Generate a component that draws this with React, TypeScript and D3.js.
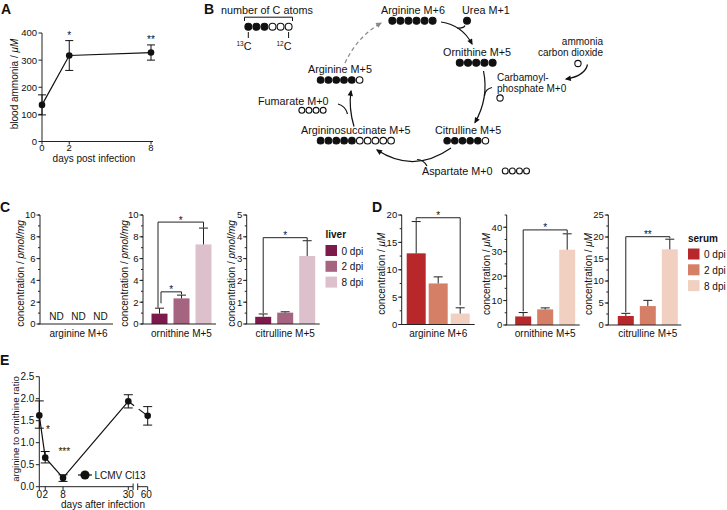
import React from "react";
import * as d3 from "d3";

const FONT = "Liberation Sans, Arial, Helvetica, sans-serif";
const INK = "#222";

// ---------- Panel A data ----------
const ammoniaDays = [0, 2, 8];
const ammoniaMean = [135, 317, 328];
const ammoniaErr = [37, 55, 28];
const ammoniaStars = ["", "*", "**"];
const ammoniaXTicks = [0, 2, 8];

// ---------- Panel B data ----------
const metabolites = [
  "Arginine M+6",
  "Urea M+1",
  "Ornithine M+5",
  "Citrulline M+5",
  "Argininosuccinate M+5",
  "Arginine M+5",
  "Fumarate M+0",
  "Aspartate M+0",
  "Carbamoyl-phosphate M+0",
];
const labeledAtoms = [6, 1, 5, 5, 5, 5, 0, 0, 0];
const totalAtoms = [6, 1, 5, 6, 10, 6, 4, 4, 1];

// ---------- Panel C / D data ----------
const dpiGroups = ["0 dpi", "2 dpi", "8 dpi"];
const liverColors = ["#7b1a4b", "#a5647f", "#dcc1cd"];
const serumColors = ["#b8272a", "#d57f67", "#f2d0c1"];

const liverOrnMean = [0.95, 2.35, 7.3];
const liverOrnErr = [0.5, 0.3, 1.5];
const liverCitMean = [0.33, 0.52, 3.12];
const liverCitErr = [0.13, 0.04, 0.7];

const serumArgMean = [13.0, 7.5, 2.0];
const serumArgErr = [5.8, 1.2, 1.05];
const serumOrnMean = [3.5, 6.4, 30.8];
const serumOrnErr = [1.6, 0.6, 6.5];
const serumCitMean = [2.05, 4.3, 17.2];
const serumCitErr = [0.6, 1.3, 2.3];

// ---------- Panel E data ----------
const ratioDays = [0, 2, 8, 30, 60];
const ratioMean = [1.62, 0.66, 0.2, 1.94, 1.61];
const ratioErrHi = [0.33, 0.14, 0.07, 0.15, 0.21];
const ratioErrLo = [0.29, 0.12, 0.08, 0.15, 0.21];
const ratioXTicks = [0, 2, 8, 30, 60];
const ratioStars = ["*", "***"];
const ratioStarDay = [2.9, 8.4];
const ratioStarVal = [1.34, 0.86];

type Bracket = { a: number; b: number; y: number; ya: number; yb: number; label: string; dxa?: number };

function YAxis({ x, scale, major, minor, fmt, fs = 9.5, lx = 5 }: any) {
  const [d0, d1] = scale.domain();
  const majors = d3.range(d0, d1 + 1e-9, major);
  const minors = minor ? d3.range(d0, d1 + 1e-9, minor) : [];
  return (
    <g>
      <line x1={x} x2={x} y1={scale(d0)} y2={scale(d1)} stroke={INK} strokeWidth={1} />
      {minors.map((v: number, i: number) => (
        <line key={"m" + i} x1={x - 2} x2={x} y1={scale(v)} y2={scale(v)} stroke={INK} strokeWidth={1} />
      ))}
      {majors.map((v: number, i: number) => (
        <g key={"M" + i}>
          <line x1={x - 3.5} x2={x} y1={scale(v)} y2={scale(v)} stroke={INK} strokeWidth={1} />
          <text x={x - lx} y={scale(v) + 3.4} textAnchor="end" fontSize={fs}>
            {fmt ? fmt(v) : v}
          </text>
        </g>
      ))}
    </g>
  );
}

function BarPanel(props: any) {
  const {
    x0, top, bottom, max, major, minor, means, errs, colors, offset, bw, xlabel,
    unit, ylabelX, brackets, nd, fs, lx,
  } = props;
  const y = d3.scaleLinear().domain([0, max]).range([bottom, top]);
  const step = 22;
  const start = x0 + offset;
  const x = d3
    .scaleBand()
    .domain(dpiGroups)
    .range([start, start + 2 * step + bw])
    .paddingInner(1 - bw / step)
    .paddingOuter(0);
  const cx = (i: number) => (x(dpiGroups[i]) as number) + x.bandwidth() / 2;
  return (
    <g>
      {means &&
        means.map((m: number, i: number) => (
          <g key={i}>
            <rect x={x(dpiGroups[i])} y={y(m)} width={x.bandwidth()} height={y(0) - y(m)} fill={colors[i]} />
            <line x1={cx(i)} x2={cx(i)} y1={y(m)} y2={y(m + errs[i])} stroke={INK} strokeWidth={1} />
            <line x1={cx(i) - 4.5} x2={cx(i) + 4.5} y1={y(m + errs[i])} y2={y(m + errs[i])} stroke={INK} strokeWidth={1} />
          </g>
        ))}
      {nd &&
        dpiGroups.map((g, i) => (
          <text key={g} x={cx(i)} y={bottom - 4} textAnchor="middle" fontSize={10}>
            ND
          </text>
        ))}
      <line x1={x0} x2={x0 + 73} y1={bottom} y2={bottom} stroke={INK} strokeWidth={1} />
      <YAxis x={x0} scale={y} major={major} minor={minor} fs={fs} lx={lx} />
      {(brackets || []).map((b: Bracket, i: number) => {
        const xa = cx(b.a) + (b.dxa || 0);
        const xb = cx(b.b);
        return (
          <g key={"b" + i}>
            <path
              d={`M${xa},${y(b.ya)}V${y(b.y)}H${xb}V${y(b.yb)}`}
              fill="none"
              stroke={INK}
              strokeWidth={1}
            />
            <text x={(xa + xb) / 2} y={y(b.y) + 1.5} textAnchor="middle" fontSize={10}>
              {b.label}
            </text>
          </g>
        );
      })}
      <text x={cx(1)} y={336.5} textAnchor="middle" fontSize={10}>
        {xlabel}
      </text>
      <text transform={`translate(${ylabelX},${(top + bottom) / 2 + 4}) rotate(-90)`} textAnchor="middle" fontSize={10}>
        concentration / <tspan fontStyle="italic">{unit}</tspan>
      </text>
    </g>
  );
}

function Legend({ x, y, title, colors }: any) {
  return (
    <g>
      <text x={x} y={y} fontSize={10} fontWeight="bold">
        {title}
      </text>
      {dpiGroups.map((g, i) => (
        <g key={g}>
          <rect x={x} y={y + 7 + i * 15.8} width={11.5} height={11} fill={colors[i]} />
          <text x={x + 16} y={y + 16.5 + i * 15.8} fontSize={10}>
            {g}
          </text>
        </g>
      ))}
    </g>
  );
}

function PanelA() {
  const x = d3.scaleLinear().domain([0, 8]).range([42, 151]);
  const y = d3.scaleLinear().domain([0, 400]).range([141.5, 33]);
  const line = d3
    .line<number>()
    .x((_, i) => x(ammoniaDays[i]))
    .y((d) => y(d));
  return (
    <g>
      <text x={1} y={14} fontSize={14} fontWeight="bold">A</text>
      <line x1={42} x2={153} y1={141.5} y2={141.5} stroke={INK} />
      {ammoniaXTicks.map((t) => (
        <g key={t}>
          <line x1={x(t)} x2={x(t)} y1={141.5} y2={144.5} stroke={INK} />
          <text x={x(t)} y={150.5} textAnchor="middle" fontSize={9.5}>{t}</text>
        </g>
      ))}
      <YAxis x={42} scale={y} major={100} fs={9.5} />
      <path d={line(ammoniaMean) || ""} fill="none" stroke="#111" strokeWidth={1.2} />
      {ammoniaMean.map((m, i) => (
        <g key={i}>
          <line x1={x(ammoniaDays[i])} x2={x(ammoniaDays[i])} y1={y(m - ammoniaErr[i])} y2={y(m + ammoniaErr[i])} stroke="#111" />
          <line x1={x(ammoniaDays[i]) - 4} x2={x(ammoniaDays[i]) + 4} y1={y(m + ammoniaErr[i])} y2={y(m + ammoniaErr[i])} stroke="#111" />
          <line x1={x(ammoniaDays[i]) - 4} x2={x(ammoniaDays[i]) + 4} y1={y(m - ammoniaErr[i])} y2={y(m - ammoniaErr[i])} stroke="#111" />
          <circle cx={x(ammoniaDays[i])} cy={y(m)} r={3.3} fill="#111" />
          <text x={x(ammoniaDays[i])} y={y(m + ammoniaErr[i]) - 1.5} textAnchor="middle" fontSize={10} fill="#111">
            {ammoniaStars[i]}
          </text>
        </g>
      ))}
      <text x={94} y={161.5} textAnchor="middle" fontSize={10}>days post infection</text>
      <text transform="translate(18,84) rotate(-90)" textAnchor="middle" fontSize={10}>
        blood ammonia / <tspan fontStyle="italic">μM</tspan>
      </text>
    </g>
  );
}

function AtomRow({ left, y, d, filled, total }: any) {
  return (
    <g>
      {d3.range(total).map((i) => (
        <circle
          key={i}
          cx={left + d / 2 + i * d}
          cy={y}
          r={d / 2 - 0.6}
          fill={i < filled ? "#111" : "#fff"}
          stroke="#111"
          strokeWidth={1.1}
        />
      ))}
    </g>
  );
}

function PanelB() {
  // layout for each metabolite: [textX, textY, rowLeft, rowY, diameter]
  const layout: number[][] = [
    [381, 13.5, 388.3, 20.7, 8.06],
    [462, 13.5, 463, 20.7, 8],
    [443, 55.5, 455.7, 62.7, 8.2],
    [435, 133.7, 443.3, 140.7, 7.67],
    [301, 133.7, 316.7, 140.7, 7.83],
    [308, 73, 316.7, 80, 7.8],
    [258, 105, 298.3, 110.3, 7.1],
    [422, 175, 501.7, 171, 7.1],
    [497, 80.5, 496.3, 98, 7.5],
  ];
  return (
    <g fontSize={10.8}>
      <defs>
        <marker id="ahB" viewBox="0 0 10 10" refX="8" refY="5" markerWidth="7" markerHeight="6" markerUnits="userSpaceOnUse" orient="auto">
          <path d="M0,0.5 L10,5 L0,9.5 Z" fill="#111" />
        </marker>
        <marker id="ahG" viewBox="0 0 10 10" refX="8" refY="5" markerWidth="7" markerHeight="6" markerUnits="userSpaceOnUse" orient="auto">
          <path d="M0,0.5 L10,5 L0,9.5 Z" fill="#888" />
        </marker>
      </defs>
      <text x={204} y={14} fontSize={14} fontWeight="bold">B</text>
      <text x={221} y={13.5}>number of C atoms</text>
      <path d="M244.5,21V17.2H292.5V21" fill="none" stroke="#111" strokeWidth={1} />
      <AtomRow left={244.3} y={26.7} d={8.06} filled={3} total={6} />
      <line x1={248.3} x2={248.3} y1={32} y2={38} stroke="#111" />
      <line x1={288.6} x2={288.6} y1={32} y2={38} stroke="#111" />
      <text x={236.5} y={49.5}>
        <tspan fontSize={6.5} dy={-4}>13</tspan>
        <tspan dy={4}>C</tspan>
      </text>
      <text x={276.5} y={49.5}>
        <tspan fontSize={6.5} dy={-4}>12</tspan>
        <tspan dy={4}>C</tspan>
      </text>
      {metabolites.map((m, i) => {
        const [tx, ty, rl, ry, d] = layout[i];
        return (
          <g key={m}>
            {m.startsWith("Carbamoyl") ? (
              <g fontSize={10}>
                <text x={tx} y={ty}>Carbamoyl-</text>
                <text x={tx} y={ty + 11.3}>phosphate M+0</text>
              </g>
            ) : (
              <text x={tx} y={ty}>{m}</text>
            )}
            <AtomRow left={rl} y={ry} d={d} filled={labeledAtoms[i]} total={totalAtoms[i]} />
          </g>
        );
      })}
      <g fontSize={10}>
        <text x={603} y={45} textAnchor="end">ammonia</text>
        <text x={603} y={56.3} textAnchor="end">carbon dioxide</text>
      </g>
      <AtomRow left={574.2} y={63.5} d={7.5} filled={0} total={1} />
      {/* arrows */}
      <g fill="none" stroke="#111" strokeWidth={1.2}>
        <path d="M441,22 Q462,25 472,44" markerEnd="url(#ahB)" />
        <path d="M465,25.5 Q464,28.5 457,28" />
        <path d="M483.5,71 Q489,98 475,122.5" markerEnd="url(#ahB)" />
        <path d="M492,87.5 Q485,89 484.5,96" />
        <path d="M587.5,64.5 Q585,76 566,79" markerEnd="url(#ahB)" />
        <path d="M451,148 Q414,174 377,150" markerEnd="url(#ahB)" />
        <path d="M427,166 Q424,160 417,159.5" />
        <path d="M354,126.5 Q348.5,108 351,91" markerEnd="url(#ahB)" />
        <path d="M338,104 Q345.5,106 347.5,114" />
      </g>
      <path d="M345,63 Q357,37 381,23" fill="none" stroke="#888" strokeWidth={1.2} strokeDasharray="4,3" markerEnd="url(#ahG)" />
    </g>
  );
}

function PanelE() {
  const y = d3.scaleLinear().domain([0, 2.5]).range([486.7, 376.7]);
  const x1 = d3.scaleLinear().domain([0, 30]).range([39.3, 128.3]);
  const x2 = d3.scaleLinear().domain([50, 60]).range([137.7, 147.7]);
  const seg1End = 133.1;
  const xs = (d: number) => (d <= 31.6 ? x1(d) : x2(d));
  const pts = ratioDays.map((d, i) => [xs(d), y(ratioMean[i])]);
  const line = d3.line();
  const [p30, p60] = [pts[3], pts[4]];
  const interp = (xv: number) => p30[1] + ((xv - p30[0]) / (p60[0] - p30[0])) * (p60[1] - p30[1]);
  return (
    <g>
      <text x={0} y={365} fontSize={14} fontWeight="bold">E</text>
      <YAxis x={39.3} scale={y} major={0.5} fmt={d3.format(".1f")} fs={10} />
      <line x1={39.3} x2={seg1End} y1={486.7} y2={486.7} stroke={INK} />
      <line x1={seg1End} x2={seg1End} y1={483.5} y2={490} stroke={INK} />
      <line x1={137.7} x2={147.7} y1={486.7} y2={486.7} stroke={INK} />
      <line x1={137.7} x2={137.7} y1={483.5} y2={490} stroke={INK} />
      {ratioXTicks.map((t) => (
        <g key={t}>
          <line x1={xs(t)} x2={xs(t)} y1={486.7} y2={490} stroke={INK} />
          <text x={t === 60 ? xs(t) - 1.5 : xs(t)} y={497.5} textAnchor="middle" fontSize={10}>{t}</text>
        </g>
      ))}
      <path d={line(pts.slice(0, 4) as any) || ""} fill="none" stroke="#111" strokeWidth={1.2} />
      <line x1={p30[0]} y1={p30[1]} x2={seg1End + 1} y2={interp(seg1End + 1)} stroke="#111" strokeWidth={1.2} />
      <line x1={137.7 + 1} y1={interp(138.7)} x2={p60[0]} y2={p60[1]} stroke="#111" strokeWidth={1.2} />
      {ratioMean.map((m, i) => {
        const cx = xs(ratioDays[i]);
        return (
          <g key={i}>
            <line x1={cx} x2={cx} y1={y(m - ratioErrLo[i])} y2={y(m + ratioErrHi[i])} stroke="#111" />
            <line x1={cx - 4.5} x2={cx + 4.5} y1={y(m + ratioErrHi[i])} y2={y(m + ratioErrHi[i])} stroke="#111" />
            <line x1={cx - 4.5} x2={cx + 4.5} y1={y(m - ratioErrLo[i])} y2={y(m - ratioErrLo[i])} stroke="#111" />
            <circle cx={cx} cy={y(m)} r={3.3} fill="#111" />
          </g>
        );
      })}
      {ratioStars.map((s, i) => (
        <text key={s} x={x1(ratioStarDay[i])} y={y(ratioStarVal[i]) + 5.7} textAnchor="middle" fontSize={10}>
          {s}
        </text>
      ))}
      <line x1={78} x2={92} y1={475} y2={475} stroke="#111" strokeWidth={1.2} />
      <circle cx={85} cy={475} r={4.6} fill="#111" />
      <text x={94.5} y={479} fontSize={10}>LCMV Cl13</text>
      <text x={103} y={507.5} textAnchor="middle" fontSize={10}>days after infection</text>
      <text transform="translate(18.5,429) rotate(-90)" textAnchor="middle" fontSize={9.6}>
        arginine to ornithine ratio
      </text>
    </g>
  );
}

export default function App() {
  return (
    <svg
      width={727}
      height={510}
      style={{ position: "absolute", left: 0, top: 0, background: "#fff" }}
      fontFamily={FONT}
      fill="#111"
    >
      <rect x={0} y={0} width={727} height={510} fill="#fff" />
      <PanelA />
      <PanelB />
      {/* Panel C */}
      <text x={0} y={212} fontSize={14} fontWeight="bold">C</text>
      <BarPanel x0={40} top={215} bottom={324} max={10} major={2} minor={1} nd offset={8.5} bw={16}
        xlabel="arginine M+6" unit="pmol/mg" ylabelX={23.5} fs={9.5} lx={4.5} />
      <BarPanel x0={143} top={215} bottom={324} max={10} major={2} minor={1} means={liverOrnMean} errs={liverOrnErr}
        colors={liverColors} offset={8.5} bw={16} xlabel="ornithine M+5" unit="pmol/mg" ylabelX={127.5} fs={9.5} lx={4.5}
        brackets={[
          { a: 0, b: 2, y: 9.35, ya: 1.5, yb: 8.85, label: "*", dxa: -1.5 },
          { a: 0, b: 1, y: 2.95, ya: 1.9, yb: 2.72, label: "*", dxa: 1.5 },
        ]} />
      <BarPanel x0={246.7} top={215} bottom={324} max={5} major={1} minor={0.5} means={liverCitMean} errs={liverCitErr}
        colors={liverColors} offset={8.5} bw={16} xlabel="citrulline M+5" unit="pmol/mg" ylabelX={234.5} fs={9.5} lx={4.5}
        brackets={[{ a: 0, b: 2, y: 3.96, ya: 0.5, yb: 3.85, label: "*" }]} />
      <Legend x={325.5} y={238} title="liver" colors={liverColors} />
      {/* Panel D */}
      <text x={372} y={212} fontSize={14} fontWeight="bold">D</text>
      <BarPanel x0={401.7} top={215} bottom={324.5} max={20} major={5} minor={2.5} means={serumArgMean} errs={serumArgErr}
        colors={serumColors} offset={5} bw={19} xlabel="arginine M+6" unit="μM" ylabelX={385} fs={9.5} lx={4.5}
        brackets={[{ a: 0, b: 2, y: 19.5, ya: 18.95, yb: 3.5, label: "*" }]} />
      <BarPanel x0={506.7} top={215} bottom={325} max={45} major={10} minor={5} means={serumOrnMean} errs={serumOrnErr}
        colors={serumColors} offset={8.5} bw={16} xlabel="ornithine M+5" unit="μM" ylabelX={489.5} fs={9.5} lx={4.5}
        brackets={[{ a: 0, b: 2, y: 38.9, ya: 5.6, yb: 37.6, label: "*" }]} />
      <BarPanel x0={608.3} top={215} bottom={325} max={25} major={5} minor={2.5} means={serumCitMean} errs={serumCitErr}
        colors={serumColors} offset={9.5} bw={16} xlabel="citrulline M+5" unit="μM" ylabelX={591.5} fs={9.5} lx={4.5}
        brackets={[{ a: 0, b: 2, y: 20.07, ya: 2.9, yb: 19.7, label: "**" }]} />
      <Legend x={688} y={241.5} title="serum" colors={serumColors} />
      <PanelE />
    </svg>
  );
}
